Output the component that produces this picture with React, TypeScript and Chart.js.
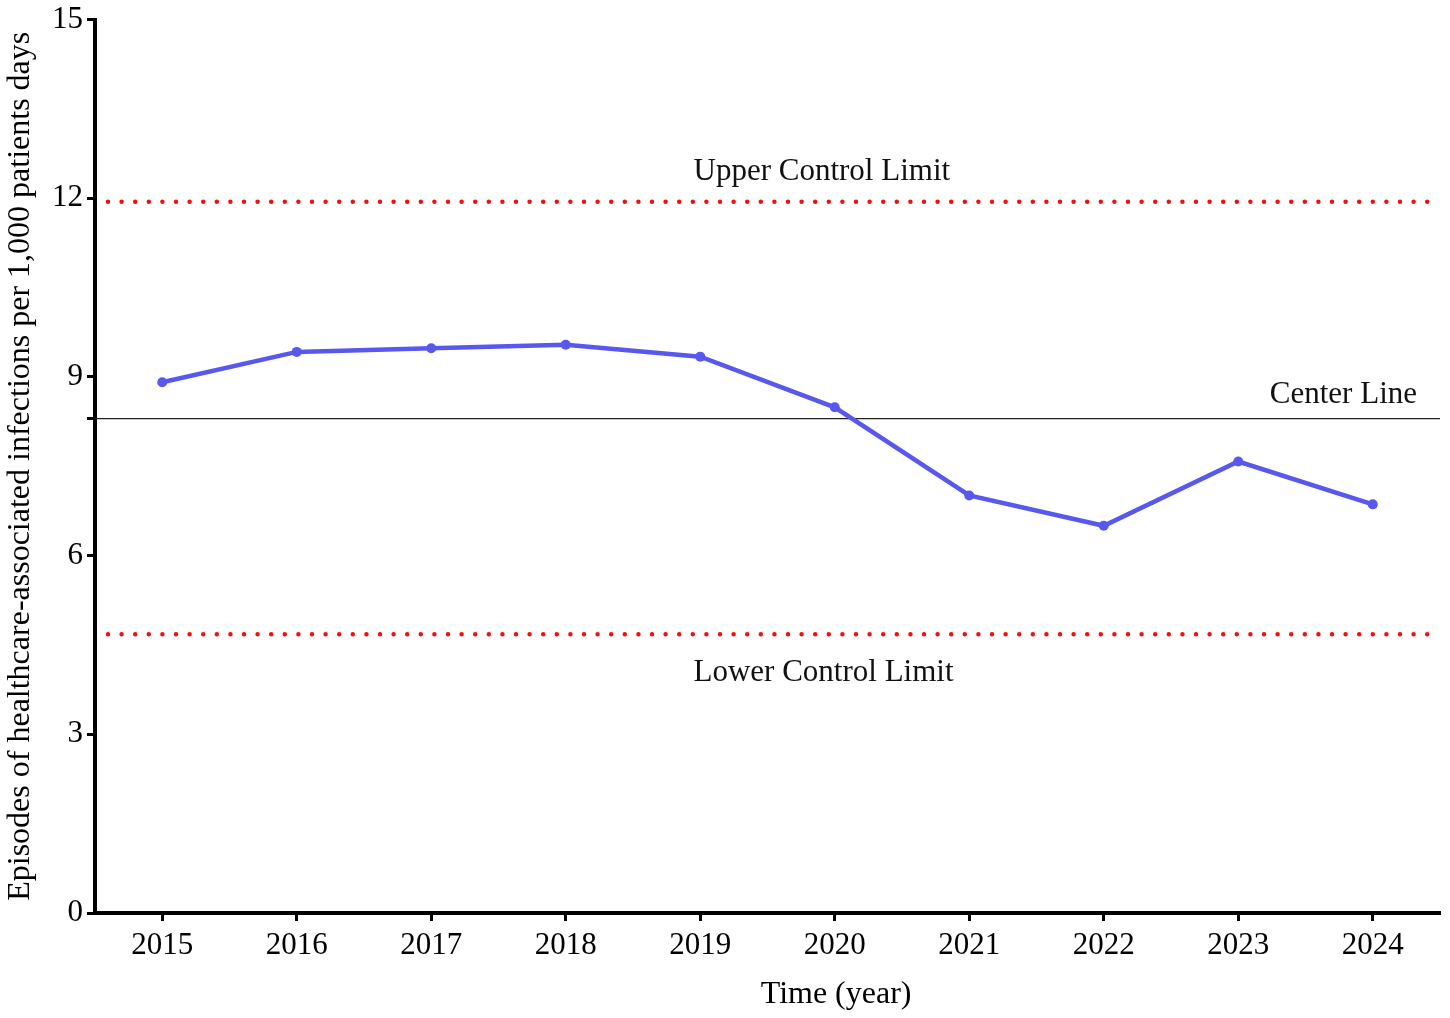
import React, { useEffect, useRef } from "react";
import { Chart, registerables } from "chart.js";

Chart.register(...registerables);

const years = ["2015", "2016", "2017", "2018", "2019", "2020", "2021", "2022", "2023", "2024"];
const infectionRates = [8.91, 9.42, 9.48, 9.54, 9.34, 8.49, 7.01, 6.5, 7.58, 6.86];
const upperControlLimit = 11.94;
const centerLine = 8.3;
const lowerControlLimit = 4.68;
const yTickValues = [0, 3, 6, 9, 12, 15];
const labelUpper = "Upper Control Limit";
const labelCenter = "Center Line";
const labelLower = "Lower Control Limit";
const yTitle = "Episodes of healthcare-associated infections per 1,000 patients days";
const xTitle = "Time (year)";

const FONT = "'Liberation Serif', 'Times New Roman', serif";

const controlPlugin = {
  id: "controlLines",
  beforeDatasetsDraw(chart: any) {
    const { ctx, chartArea, scales } = chart;
    const y = scales.y;
    const left = chartArea.left;
    const right = chartArea.right;
    const w = right - left;
    ctx.save();
    // dotted red limits
    ctx.strokeStyle = "#ee1111";
    ctx.lineWidth = 4.5;
    ctx.lineCap = "round";
    ctx.setLineDash([0, 13.6]);
    [upperControlLimit, lowerControlLimit].forEach((v) => {
      const py = y.getPixelForValue(v);
      ctx.beginPath();
      ctx.moveTo(left + 13, py);
      ctx.lineTo(right, py);
      ctx.stroke();
    });
    ctx.setLineDash([]);
    ctx.lineCap = "butt";
    // center line
    const cy = y.getPixelForValue(centerLine);
    ctx.strokeStyle = "#222";
    ctx.lineWidth = 1.4;
    ctx.beginPath();
    ctx.moveTo(left, cy);
    ctx.lineTo(right, cy);
    ctx.stroke();
    // labels
    ctx.fillStyle = "#111";
    ctx.font = "31px " + FONT;
    ctx.textBaseline = "alphabetic";
    ctx.textAlign = "left";
    const tx = left + w * 0.445;
    ctx.fillText(labelUpper, tx, y.getPixelForValue(upperControlLimit) - 22);
    ctx.fillText(labelLower, tx, y.getPixelForValue(lowerControlLimit) + 47);
    ctx.textAlign = "right";
    ctx.fillText(labelCenter, right - 23, cy - 16);
    // x axis title
    ctx.fillStyle = "#000";
    ctx.font = "32px " + FONT;
    ctx.textAlign = "center";
    ctx.textBaseline = "alphabetic";
    ctx.fillText(xTitle, left + w * 0.551, chart.height - 15);
    ctx.restore();
  },
};

export default function App() {
  const ref = useRef<HTMLCanvasElement>(null);
  useEffect(() => {
    if (!ref.current) return;
    const chart = new Chart(ref.current, {
      type: "line",
      data: {
        labels: years,
        datasets: [
          {
            data: infectionRates,
            borderColor: "#5858ee",
            backgroundColor: "#5858ee",
            borderWidth: 4.5,
            pointRadius: 5,
            pointBorderWidth: 0,
            tension: 0,
          },
        ],
      },
      plugins: [controlPlugin],
      options: {
        animation: false,
        responsive: true,
        maintainAspectRatio: false,
        layout: { padding: { top: 17, right: 10, left: 0, bottom: 0 } },
        plugins: { legend: { display: false }, tooltip: { enabled: false } },
        scales: {
          x: {
            type: "category",
            offset: true,
            afterFit: (s: any) => {
              s.height = 105;
            },
            grid: {
              offset: false,
              drawOnChartArea: false,
              drawTicks: true,
              tickLength: 8,
              tickWidth: 3,
              tickColor: "#000",
            },
            border: { display: true, color: "#000", width: 4 },
            ticks: {
              color: "#000",
              font: { family: FONT, size: 31 },
              padding: 6,
              maxRotation: 0,
              autoSkip: false,
            },
          },
          y: {
            min: 0,
            max: 15,
            afterFit: (s: any) => {
              s.width = 95;
            },
            afterBuildTicks: (s: any) => {
              const t = yTickValues.map((v) => ({ value: v }));
              t.push({ value: centerLine });
              t.sort((a, b) => a.value - b.value);
              s.ticks = t;
            },
            grid: {
              drawOnChartArea: false,
              drawTicks: true,
              tickLength: 8,
              tickWidth: 3,
              tickColor: "#000",
            },
            border: { display: true, color: "#000", width: 4 },
            ticks: {
              color: "#000",
              font: { family: FONT, size: 31, lineHeight: 1.0 },
              padding: 4,
              callback: (v: any) => (yTickValues.includes(Number(v)) ? String(v) : ""),
            },
            title: {
              display: true,
              text: yTitle,
              color: "#000",
              font: { family: FONT, size: 32 },
              padding: { top: 1, bottom: 0 },
            },
          },
        },
      },
    });
    return () => chart.destroy();
  }, []);
  return (
    <div style={{ position: "absolute", left: 0, top: 0, width: 1450, height: 1018, background: "#fff" }}>
      <canvas ref={ref} />
    </div>
  );
}
